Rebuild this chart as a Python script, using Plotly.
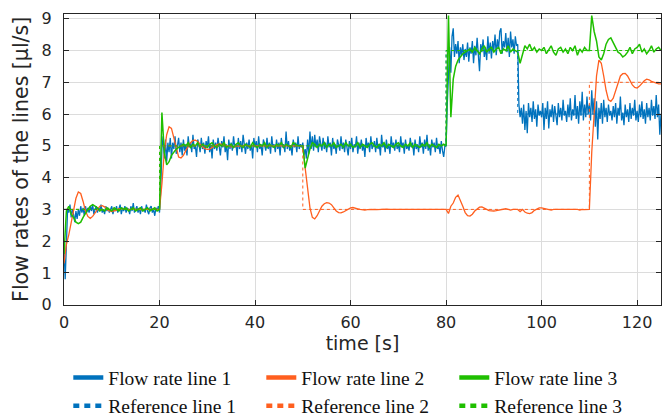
import numpy as np
import plotly.graph_objects as go

# Sampling grids [s]
dt_line1 = 0.25
dt_other = 0.5

# Measured flow rate, line 1 [µl/s] (one row = 5 s)
flow_line1 = [
    1.8, 0.8, 1.9, 3.0, 2.9, 3.15, 2.75, 3.0, 2.85, 2.6, 2.95, 2.7, 3.0, 2.8, 3.1, 2.9, 3.05, 2.8, 3.1, 2.9,
    3.05, 2.9, 3.1, 2.95, 3.15, 2.85, 3.0, 3.1, 2.9, 3.05, 2.95, 3.15, 2.9, 3.0, 2.85, 3.1, 2.95, 3.05, 2.9, 3.0,
    3.1, 2.85, 3.05, 2.95, 3.1, 2.9, 3.0, 3.15, 2.85, 3.05, 2.95, 3.1, 2.9, 3.05, 3.0, 2.85, 3.1, 2.95, 3.2, 2.9,
    3.0, 3.1, 2.9, 3.05, 2.85, 3.1, 2.95, 3.0, 2.9, 3.15, 2.95, 2.85, 3.05, 3.1, 2.9, 3.0, 2.8, 3.05, 2.95, 3.1,
    2.9, 3.6, 4.9, 5.3, 4.6, 5.2, 4.5, 5.1, 4.8, 5.25, 4.6, 5.1, 4.9, 5.3, 4.75, 5.0, 5.25, 4.8, 5.1, 4.7,
    5.2, 4.85, 5.05, 4.7, 5.3, 4.95, 5.1, 4.8, 5.35, 4.9, 5.0, 4.65, 5.2, 5.05, 4.8, 5.25, 4.9, 5.1, 4.75, 5.15,
    4.95, 5.3, 4.8, 5.05, 4.6, 5.2, 4.9, 5.1, 4.85, 5.25, 5.0, 4.7, 5.15, 4.95, 5.3, 4.8, 5.05, 4.55, 5.2, 4.9,
    5.1, 4.85, 5.3, 4.95, 5.05, 4.7, 5.25, 4.9, 5.15, 4.8, 5.35, 5.0, 4.75, 5.1, 4.9, 5.2, 4.85, 5.05, 4.6, 5.25,
    4.95, 5.15, 4.8, 5.3, 4.9, 5.05, 4.7, 5.2, 5.0, 4.85, 5.25, 4.9, 5.1, 4.75, 5.3, 4.95, 5.05, 4.8, 5.2, 4.9,
    5.1, 4.7, 5.25, 4.95, 5.05, 4.8, 5.45, 4.9, 5.15, 4.85, 5.0, 4.7, 5.2, 4.95, 5.1, 4.8, 5.3, 4.9, 5.05, 4.95,
    5.1, 4.7, 4.9, 4.6, 5.2, 4.75, 5.45, 4.9, 5.3, 4.85, 5.35, 4.95, 5.2, 4.8, 5.3, 5.0, 4.85, 5.25, 4.9, 5.1,
    4.8, 5.3, 4.95, 5.1, 4.7, 5.25, 4.9, 5.05, 4.75, 5.2, 5.0, 4.85, 5.3, 4.9, 5.1, 4.8, 5.2, 4.95, 4.7, 5.15,
    4.9, 5.25, 4.8, 5.05, 4.95, 5.3, 4.75, 5.1, 4.9, 5.2, 4.85, 5.05, 4.65, 5.25, 4.95, 5.1, 4.8, 5.3, 4.9, 5.0,
    5.15, 4.8, 5.25, 4.9, 5.05, 4.7, 5.35, 4.95, 5.1, 4.8, 5.2, 4.9, 5.05, 4.75, 5.3, 4.95, 5.1, 4.85, 5.2, 4.9,
    5.05, 4.8, 5.3, 4.95, 5.1, 4.75, 5.2, 4.9, 5.0, 4.85, 5.25, 4.95, 5.1, 4.7, 5.2, 4.9, 5.05, 4.8, 5.3, 4.95,
    5.1, 4.75, 5.2, 4.9, 5.35, 4.85, 5.05, 4.7, 5.2, 4.95, 5.1, 4.8, 5.25, 4.9, 5.0, 4.75, 5.15, 4.85, 4.65, 5.0,
    5.0, 6.3, 7.6, 8.1, 7.3, 8.45, 8.7, 7.8, 8.2, 7.9, 8.3, 7.6, 8.1, 7.85, 8.2, 7.7, 8.05, 7.8, 8.25, 7.65,
    8.1, 7.9, 8.3, 7.6, 8.15, 7.85, 8.4, 7.7, 7.35, 8.2, 7.95, 8.35, 7.8, 8.1, 7.7, 8.45, 7.9, 8.25, 7.75, 8.3,
    8.0, 8.5, 7.85, 8.35, 8.05, 8.6, 8.7, 7.9, 8.3, 8.1, 8.55, 7.95, 8.4, 7.8, 8.6, 8.1, 8.35, 7.9, 8.45, 8.15,
    8.2, 6.3, 5.9, 6.2, 5.7, 6.3, 5.5, 6.1, 5.4, 6.35, 5.9, 6.2, 5.75, 6.4, 5.85, 6.15, 5.6, 6.3, 5.95, 6.1,
    5.9, 6.35, 5.5, 6.2, 5.85, 6.4, 5.55, 6.15, 5.9, 6.3, 5.75, 6.25, 6.0, 5.65, 6.35, 5.9, 6.2, 5.8, 6.45, 5.95,
    6.1, 5.75, 6.3, 5.9, 6.5, 5.8, 6.15, 5.95, 6.6, 5.85, 6.25, 5.7, 6.4, 5.95, 6.7, 5.8, 6.3, 5.9, 6.55, 6.0,
    6.3, 5.8, 6.75, 6.0, 6.5, 5.6, 6.4, 5.2, 6.2, 5.85, 6.35, 5.7, 6.45, 5.9, 6.2, 5.75, 6.3, 5.95, 6.1, 5.8,
    6.25, 5.9, 6.35, 5.7, 6.2, 5.95, 6.55, 5.8, 6.05, 5.65, 6.3, 5.9, 6.15, 5.75, 6.35, 5.85, 6.2, 5.95, 6.45, 5.8,
    6.1, 5.75, 6.3, 5.9, 6.4, 5.85, 6.15, 5.7, 6.35, 5.9, 6.2, 5.8, 6.45, 5.95, 6.25, 5.85, 6.6, 5.9, 6.3, 5.35,
    6.0,
]

# Measured flow rate, line 2 [µl/s] (one row = 5 s)
flow_line2 = [
    1.3, 1.9, 2.2, 2.6, 3.0, 3.35, 3.55, 3.5, 3.25, 2.95,
    2.78, 2.72, 2.78, 2.9, 3.02, 3.1, 3.12, 3.08, 3.0, 2.95,
    2.93, 2.95, 2.98, 3.02, 3.03, 3.02, 3.0, 2.99, 3.0, 3.01,
    3.0, 3.0, 2.99, 3.0, 3.01, 3.0, 3.0, 2.99, 3.0, 3.0,
    3.0, 3.8, 4.8, 5.35, 5.6, 5.55, 5.25, 4.9, 4.65, 4.62,
    4.7, 4.85, 5.0, 5.1, 5.17, 5.18, 5.14, 5.05, 4.97, 4.91,
    4.89, 4.9, 4.95, 5.0, 5.04, 5.06, 5.06, 5.04, 5.01, 4.98,
    4.97, 4.97, 4.98, 5.0, 5.01, 5.02, 5.02, 5.01, 5.0, 4.99,
    5.0, 5.0, 5.0, 5.01, 5.0, 5.0, 4.99, 5.0, 5.0, 5.0,
    5.0, 5.0, 5.0, 5.0, 5.0, 5.0, 5.0, 5.0, 5.0, 5.0,
    5.0, 4.3, 3.6, 3.05, 2.75, 2.7, 2.8, 2.97, 3.1, 3.18,
    3.21, 3.2, 3.15, 3.05, 2.95, 2.9, 2.89, 2.92, 2.97, 3.02,
    3.05, 3.06, 3.05, 3.02, 3.0, 2.98, 2.98, 2.99, 3.0, 3.0,
    3.0, 2.99, 3.0, 3.0, 3.0, 3.01, 3.0, 3.0, 3.0, 3.0,
    3.0, 3.0, 3.01, 3.0, 2.99, 3.0, 3.0, 3.0, 3.01, 3.0,
    3.0, 3.0, 2.99, 3.0, 3.0, 3.0, 3.01, 3.0, 3.0, 3.0,
    3.0, 2.87, 3.1, 3.2, 3.38, 3.45, 3.3, 3.1, 2.9, 2.8,
    2.79, 2.85, 2.95, 3.02, 3.07, 3.08, 3.05, 3.0, 2.96, 2.95,
    2.95, 2.96, 2.98, 3.0, 3.0, 3.02, 3.0, 2.98, 3.0, 3.01,
    3.0, 2.93, 3.0, 2.92, 2.88, 2.87, 2.9, 2.97, 3.02, 3.05,
    3.05, 3.03, 3.0, 2.98, 2.98, 3.0, 3.0, 2.99, 3.0, 3.01,
    3.0, 3.0, 3.01, 2.99, 3.0, 3.0, 2.98, 3.0, 2.99, 3.0,
    3.0, 4.8, 6.2, 7.2, 7.7, 7.6, 7.2, 6.75, 6.45, 6.4,
    6.5, 6.75, 7.0, 7.2, 7.27, 7.28, 7.2, 7.05, 6.92, 6.84,
    6.82, 6.88, 6.97, 7.05, 7.1, 7.08, 7.03, 7.0, 6.97, 6.95,
    6.95,
]

# Measured flow rate, line 3 [µl/s] (one row = 5 s)
flow_line3 = [
    1.6, 2.95, 3.1, 2.85, 2.75, 2.6, 2.55, 2.6, 2.75, 2.9,
    3.0, 3.1, 3.15, 3.1, 3.05, 2.95, 3.0, 2.95, 3.05, 3.0,
    2.95, 3.05, 3.0, 2.95, 3.05, 3.0, 3.05, 2.95, 3.0, 3.05,
    2.95, 3.0, 3.05, 2.95, 3.0, 3.05, 2.95, 3.0, 3.05, 2.95,
    3.0, 6.05, 4.8, 4.4, 4.5, 4.7, 4.8, 4.9, 4.95, 5.0,
    5.05, 5.0, 5.1, 4.95, 5.05, 5.0, 5.1, 4.95, 5.05, 5.0,
    4.95, 5.05, 5.1, 5.0, 4.95, 5.05, 5.0, 5.1, 4.95, 5.0,
    5.05, 4.95, 5.05, 5.1, 5.0, 4.95, 5.05, 5.0, 4.95, 5.1,
    5.0, 4.95, 5.05, 5.0, 5.1, 4.95, 5.05, 5.0, 4.95, 5.05,
    5.0, 5.1, 4.95, 5.05, 5.0, 4.95, 5.1, 5.05, 5.0, 5.0,
    5.0, 4.3, 4.6, 4.9, 5.1, 5.05, 4.95, 5.05, 5.0, 5.1,
    4.95, 5.05, 5.0, 5.1, 4.95, 5.0, 5.05, 4.95, 5.1, 5.0,
    5.05, 4.95, 5.0, 5.1, 4.95, 5.05, 5.0, 4.95, 5.05, 5.1,
    5.0, 4.95, 5.05, 5.0, 5.1, 4.95, 5.05, 5.0, 4.95, 5.05,
    5.1, 5.0, 4.95, 5.05, 5.0, 5.1, 4.95, 5.05, 5.0, 4.95,
    5.05, 5.0, 5.1, 4.95, 5.05, 5.0, 4.95, 5.05, 5.0, 5.05,
    5.0, 9.1, 5.9, 7.1, 7.5, 7.7, 7.8, 7.9, 7.95, 8.0,
    8.05, 7.95, 8.1, 8.0, 7.9, 8.05, 8.15, 7.95, 8.05, 8.1,
    7.95, 8.05, 8.1, 7.9, 8.05, 8.0, 8.15, 7.95, 8.05, 8.0,
    7.95, 7.6, 7.9, 8.15, 8.05, 8.2, 8.0, 8.1, 7.95, 8.05,
    8.0, 8.1, 7.9, 8.05, 8.15, 7.95, 7.85, 8.05, 8.1, 7.95,
    8.05, 7.9, 8.1, 8.0, 8.15, 7.85, 8.05, 7.95, 8.1, 8.0,
    8.0, 9.1, 8.6, 8.3, 7.8, 7.7, 7.9, 8.2, 8.35, 8.4,
    8.25, 8.1, 7.95, 7.9, 7.8, 7.85, 7.95, 8.1, 7.9, 8.05,
    8.1, 8.2, 7.95, 8.05, 7.9, 8.0, 8.15, 7.95, 8.05, 8.1,
    8.0,
]

# Reference set points (step changes) [s], [µl/s]
ref1_t = [0, 20, 80, 95, 125]
ref1_v = [3, 5, 8, 6, 6]
ref2_t = [0, 20, 50, 110, 125]
ref2_v = [3, 5, 3, 7, 7]
ref3_t = [0, 20, 80, 125]
ref3_v = [3, 5, 8, 8]

x_ticks = [0, 20, 40, 60, 80, 100, 120]
y_ticks = [0, 1, 2, 3, 4, 5, 6, 7, 8, 9]

legend_names = ["Flow rate line 1", "Flow rate line 2", "Flow rate line 3",
                "Reference line 1", "Reference line 2", "Reference line 3"]

BLUE = "#0072BD"
ORANGE = "#FF5F1F"
GREEN = "#1FBF00"
INK = "#262626"

t1 = np.arange(len(flow_line1)) * dt_line1
t2 = np.arange(len(flow_line2)) * dt_other
t3 = np.arange(len(flow_line3)) * dt_other

fig = go.Figure()

# measured signals
fig.add_trace(go.Scatter(x=t1, y=flow_line1, mode="lines", showlegend=False,
                         line=dict(color=BLUE, width=1.3)))
fig.add_trace(go.Scatter(x=t2, y=flow_line2, mode="lines", showlegend=False,
                         line=dict(color=ORANGE, width=1.3)))
fig.add_trace(go.Scatter(x=t3, y=flow_line3, mode="lines", showlegend=False,
                         line=dict(color=GREEN, width=1.5)))

# reference steps
for rt, rv, col in [(ref1_t, ref1_v, BLUE), (ref2_t, ref2_v, ORANGE), (ref3_t, ref3_v, GREEN)]:
    fig.add_trace(go.Scatter(x=rt, y=rv, mode="lines", showlegend=False,
                             line=dict(color=col, width=1, dash="dot", shape="hv")))

# legend entries with thick swatches
for name, col, dash in zip(legend_names,
                           [BLUE, ORANGE, GREEN, BLUE, ORANGE, GREEN],
                           ["solid"] * 3 + ["6px,5px"] * 3):
    fig.add_trace(go.Scatter(x=[None], y=[None], mode="lines", name=name,
                             line=dict(color=col, width=4.5, dash=dash)))

axis_common = dict(
    ticks="inside", ticklen=5, tickwidth=1, tickcolor=INK,
    showline=True, linecolor=INK, linewidth=1, mirror="ticks",
    showgrid=True, gridcolor="#dcdcdc", gridwidth=1, zeroline=False,
    tickfont=dict(family="DejaVu Sans", size=16, color=INK),
)

fig.update_layout(
    width=671, height=418,
    margin=dict(l=64, r=9, t=9, b=111),
    plot_bgcolor="white", paper_bgcolor="white",
    font=dict(family="DejaVu Sans", color=INK),
    xaxis=dict(range=[0, 125], tickvals=x_ticks, ticklabelstandoff=3,
               title=dict(text="time [s]", font=dict(size=19, color=INK), standoff=4),
               **axis_common),
    yaxis=dict(range=[0, 9.15], tickvals=y_ticks, ticklabelstandoff=8,
               title=dict(text="Flow rates of the lines [µl/s]", font=dict(size=20.5, color=INK), standoff=7),
               **axis_common),
    legend=dict(orientation="h", xref="container", yref="container",
                x=0.1018, y=0.143, xanchor="left", yanchor="top",
                entrywidth=148, traceorder="normal",
                font=dict(family="Liberation Serif", size=19.5, color="#111111"),
                bgcolor="rgba(0,0,0,0)"),
)

fig.write_html("out.html")
